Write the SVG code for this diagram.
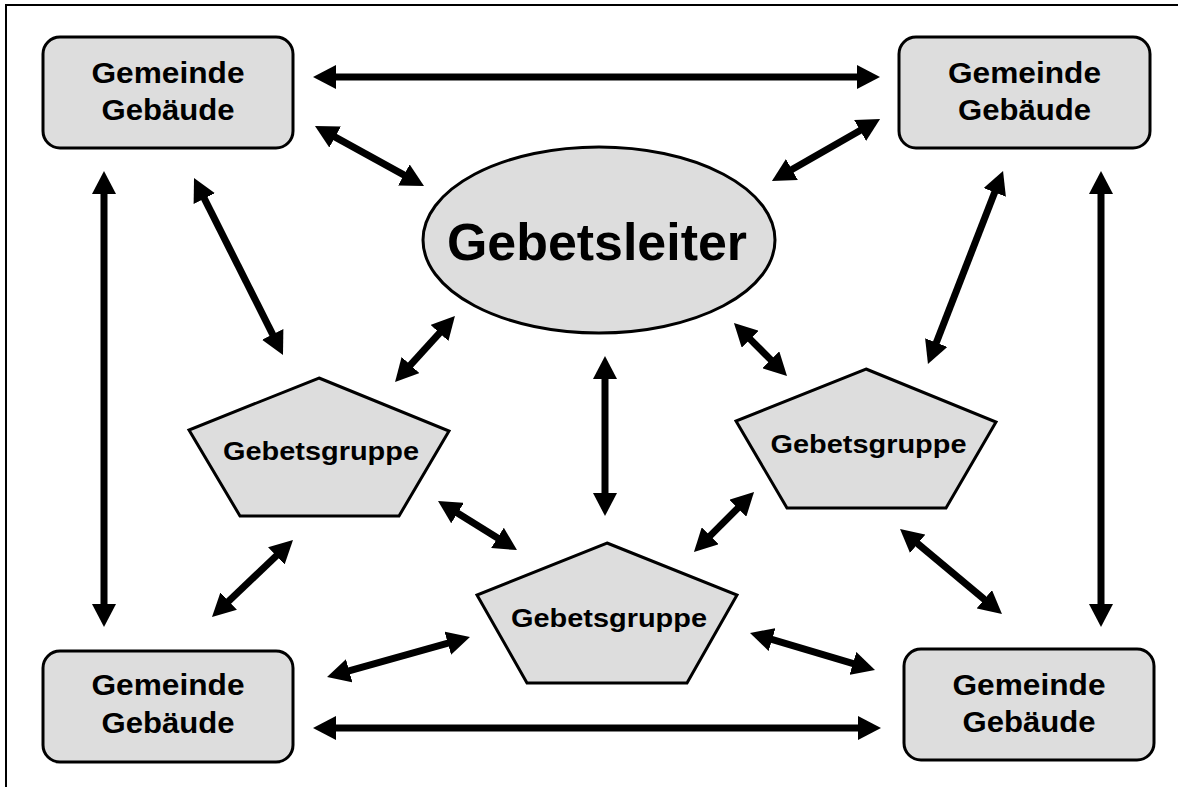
<svg xmlns="http://www.w3.org/2000/svg" width="1183" height="787" viewBox="0 0 1183 787">
  <style>
    .shape { fill: #dddddd; stroke: #000000; stroke-width: 3; }
    .label { font-family: "Liberation Sans", Arial, sans-serif; font-weight: bold; fill: #000000; text-anchor: middle; }
    .box-label { font-size: 29px; }
    .group-label { font-size: 25px; }
    .lead-label { font-size: 52px; }
    .link { stroke: #000000; stroke-width: 7; fill: none; marker-start: url(#head); marker-end: url(#head); }
    .frame { fill: none; stroke: #000000; stroke-width: 2; }
  </style>
  <defs>
    <marker id="head" markerUnits="userSpaceOnUse" markerWidth="23" markerHeight="24" refX="3" refY="12" orient="auto-start-reverse">
      <path d="M0,0 L23,12 L0,24 Z" fill="#000000"/>
    </marker>
  </defs>

  <rect width="1183" height="787" fill="#ffffff"/>
  <path class="frame" d="M6,787 V5 H1178"/>

  <!-- connectors -->
  <g id="connectors">
    <line class="link" x1="333" y1="77" x2="860" y2="77"/>
    <line class="link" x1="332.5" y1="135.6" x2="406.5" y2="176.4"/>
    <line class="link" x1="862.7" y1="129" x2="789.3" y2="171"/>
    <line class="link" x1="104" y1="191" x2="104" y2="607"/>
    <line class="link" x1="1101" y1="191" x2="1101" y2="607"/>
    <line class="link" x1="203" y1="195.9" x2="274" y2="337.1"/>
    <line class="link" x1="995.8" y1="189.6" x2="935.2" y2="345.4"/>
    <line class="link" x1="441.5" y1="330.8" x2="408.5" y2="367.2"/>
    <line class="link" x1="605" y1="376" x2="605" y2="496"/>
    <line class="link" x1="748.1" y1="337.1" x2="772.9" y2="361.9"/>
    <line class="link" x1="455" y1="511.5" x2="500" y2="539.5"/>
    <line class="link" x1="739.9" y1="506.1" x2="708.1" y2="537.9"/>
    <line class="link" x1="278.5" y1="553.8" x2="226.5" y2="603.2"/>
    <line class="link" x1="915.4" y1="541.8" x2="986.6" y2="601.2"/>
    <line class="link" x1="450.7" y1="642.4" x2="346.3" y2="671.6"/>
    <line class="link" x1="769.2" y1="638.7" x2="855.8" y2="664.3"/>
    <line class="link" x1="333" y1="728" x2="861" y2="728"/>
  </g>

  <!-- building nodes -->
  <g id="building-top-left">
    <rect class="shape" x="43" y="37" width="250" height="111" rx="17"/>
    <text class="label box-label" x="168" y="83" textLength="153" lengthAdjust="spacingAndGlyphs">Gemeinde</text>
    <text class="label box-label" x="168" y="120" textLength="133" lengthAdjust="spacingAndGlyphs">Gebäude</text>
  </g>
  <g id="building-top-right">
    <rect class="shape" x="899" y="37" width="251" height="111" rx="17"/>
    <text class="label box-label" x="1024.5" y="83" textLength="153" lengthAdjust="spacingAndGlyphs">Gemeinde</text>
    <text class="label box-label" x="1024.5" y="120" textLength="133" lengthAdjust="spacingAndGlyphs">Gebäude</text>
  </g>
  <g id="building-bottom-left">
    <rect class="shape" x="43" y="651" width="250" height="111" rx="17"/>
    <text class="label box-label" x="168" y="695" textLength="153" lengthAdjust="spacingAndGlyphs">Gemeinde</text>
    <text class="label box-label" x="168" y="733" textLength="133" lengthAdjust="spacingAndGlyphs">Gebäude</text>
  </g>
  <g id="building-bottom-right">
    <rect class="shape" x="904" y="649" width="250" height="111" rx="17"/>
    <text class="label box-label" x="1029" y="695" textLength="153" lengthAdjust="spacingAndGlyphs">Gemeinde</text>
    <text class="label box-label" x="1029" y="732" textLength="133" lengthAdjust="spacingAndGlyphs">Gebäude</text>
  </g>

  <!-- prayer leader -->
  <g id="leader">
    <ellipse class="shape" cx="599" cy="240" rx="176" ry="93"/>
    <text class="label lead-label" x="597" y="260" textLength="300" lengthAdjust="spacingAndGlyphs">Gebetsleiter</text>
  </g>

  <!-- prayer groups -->
  <g id="group-left">
    <polygon class="shape" points="319,378 449,431 399,516 240,516 189,430"/>
    <text class="label group-label" x="321" y="460" textLength="196" lengthAdjust="spacingAndGlyphs">Gebetsgruppe</text>
  </g>
  <g id="group-middle">
    <polygon class="shape" points="607,543 737,595 687,683 527,683 477,595"/>
    <text class="label group-label" x="609" y="627" textLength="196" lengthAdjust="spacingAndGlyphs">Gebetsgruppe</text>
  </g>
  <g id="group-right">
    <polygon class="shape" points="866,369 996,422 946,508 787,508 736,421"/>
    <text class="label group-label" x="868.5" y="453" textLength="196" lengthAdjust="spacingAndGlyphs">Gebetsgruppe</text>
  </g>
</svg>
